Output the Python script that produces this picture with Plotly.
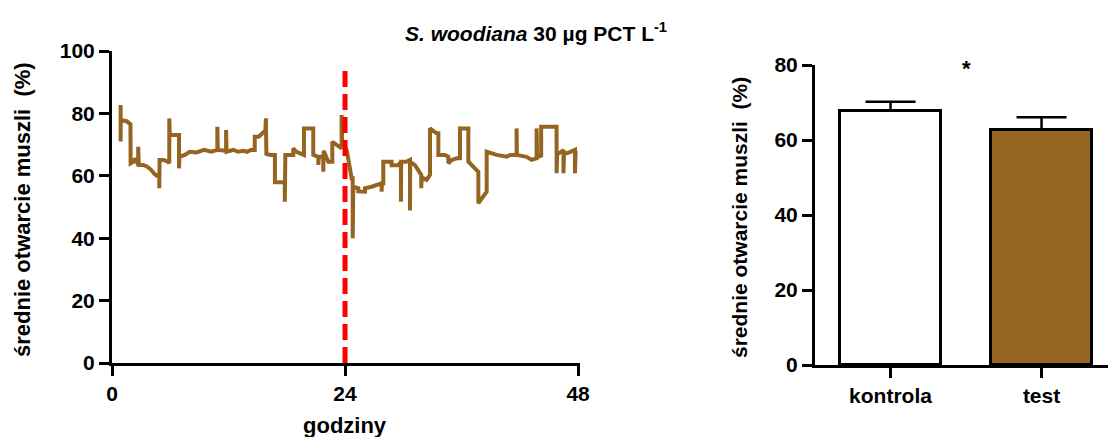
import plotly.graph_objects as go

# ---------------- data ----------------
hours = [0.89, 0.89, 0.9, 1.5, 1.9, 1.92, 2.2, 2.4, 2.7, 2.7, 2.75, 3.2, 3.6, 4.0, 4.4, 4.87, 4.87, 4.9,
         5.3, 5.8, 5.9, 5.9, 5.95, 6.9, 6.9, 6.95, 7.5, 8.0, 8.7, 9.5, 10.2, 10.85, 10.85, 10.9, 11.75,
         11.75, 11.8, 12.5, 13.0, 13.5, 13.9, 14.3, 14.7, 14.7, 15.1, 15.8, 15.85, 15.9, 16.3, 16.78,
         16.78, 17.8, 17.8, 17.85, 18.67, 18.67, 19.0, 19.77, 19.77, 20.73, 20.73, 21.25, 21.25, 21.3,
         21.76, 21.76, 21.8, 22.28, 22.69, 22.69, 23.14, 23.48, 23.65, 23.65, 23.7, 24.07, 24.17, 24.68,
         24.79, 24.79, 24.85, 25.37, 25.37, 26.05, 26.05, 26.74, 27.6, 27.77, 27.77, 27.8, 27.94, 27.94,
         28.63, 28.8, 28.8, 29.5, 29.76, 29.76, 29.78, 30.3, 30.69, 30.69, 30.71, 31.2, 31.72, 31.85,
         31.85, 31.9, 32.4, 32.75, 32.75, 33.43, 33.61, 33.61, 34.29, 34.64, 34.64, 35.0, 35.5, 35.84,
         35.84, 36.7, 36.7, 37.21, 37.73, 37.73, 38.59, 38.59, 39.44, 39.62, 40.65, 41.0, 41.67, 41.67,
         41.7, 42.7, 43.22, 43.73, 43.73, 43.78, 44.2, 44.2, 45.79, 45.79, 45.85, 46.3, 46.5, 46.5,
         46.55, 47.1, 47.68, 47.68, 47.72, 47.75]
opening = [82.7, 71.0, 77.9, 77.5, 76.5, 64.0, 64.5, 65.5, 63.5, 69.3, 63.5, 63.5, 63.0, 62.0, 60.5, 59.5, 56.0, 65.1,
           65.1, 64.5, 64.0, 78.4, 73.1, 73.1, 62.4, 66.1, 66.7, 67.7, 67.5, 68.3, 67.7, 68.3, 75.7, 68.3, 68.0,
           74.7, 67.7, 68.3, 67.7, 68.0, 67.7, 68.3, 68.3, 72.5, 72.5, 74.5, 78.4, 67.0, 66.7, 66.7,
           57.9, 57.9, 51.7, 66.7, 66.7, 68.8, 67.7, 66.7, 75.2, 75.2, 66.7, 66.1, 63.5, 66.1,
           66.1, 61.3, 68.0, 64.5, 64.5, 70.9, 69.9, 68.8, 68.8, 79.5, 70.0, 68.8, 68.3, 59.2,
           59.2, 40.0, 56.5, 56.0, 55.0, 54.9, 56.0, 56.5, 57.6, 57.6, 54.9, 57.6, 57.6, 64.5,
           64.5, 64.5, 63.4, 63.4, 64.5, 51.7, 64.5, 64.5, 65.1, 48.9, 64.5, 63.4, 61.3, 60.3,
           56.0, 59.5, 58.7, 60.3, 75.2, 73.6, 73.6, 66.7, 66.7, 66.1, 64.0, 65.1, 65.6, 65.6,
           75.2, 75.2, 64.5, 62.9, 61.3, 51.2, 54.9, 67.7, 66.7, 66.7, 66.1, 66.7, 66.7, 75.2,
           66.7, 66.1, 65.1, 65.6, 75.2, 66.0, 66.5, 75.7, 75.7, 60.8, 67.0, 67.7, 68.3, 60.8,
           67.0, 67.5, 68.3, 60.8, 68.0, 68.0]

event_hour = [24, 24]
event_level = [0, 95]

groups = ["kontrola", "test"]
group_mean = [67.8, 62.8]
group_sem = [2.4, 3.3]
group_zero = [0, 0]

x_ticks = [0, 24, 48]
y_ticks_left = [0, 20, 40, 60, 80, 100]
y_ticks_right = [0, 20, 40, 60, 80]

# ---------------- styling ----------------
BROWN = "#946420"
FONT = "Liberation Sans, Arial, sans-serif"
W, H = 1108, 437


def bold(size):
    return dict(family=FONT, size=size, color="black", weight="bold")


fig = go.Figure()

fig.add_trace(go.Scatter(x=hours, y=opening, mode="lines",
                         line=dict(color=BROWN, width=4), xaxis="x", yaxis="y",
                         showlegend=False, hoverinfo="skip"))
fig.add_trace(go.Scatter(x=event_hour, y=event_level, mode="lines",
                         line=dict(color="#ff0000", width=5, dash="16px,7px"),
                         xaxis="x", yaxis="y", showlegend=False, hoverinfo="skip"))

fig.add_trace(go.Bar(x=groups, y=group_mean, xaxis="x2", yaxis="y2", width=0.67,
                     marker=dict(color=["white", BROWN], line=dict(color="black", width=3)),
                     error_y=dict(type="data", array=group_sem, symmetric=False,
                                  arrayminus=group_zero, color="black", thickness=2.5, width=25),
                     showlegend=False, hoverinfo="skip"))

axis_common = dict(showgrid=False, zeroline=False, showline=True, linecolor="black", linewidth=3,
                   ticks="outside", ticklen=10, tickwidth=3, tickcolor="black",
                   automargin=False)

fig.update_layout(
    width=W, height=H,
    margin=dict(l=0, r=0, t=0, b=0, pad=0, autoexpand=False),
    paper_bgcolor="white", plot_bgcolor="white",
    template="none",
    bargap=0,
    xaxis=dict(domain=[112 / W, 580 / W], range=[0, 48.2], tickvals=x_ticks,
               anchor="y", tickfont=bold(21), **axis_common),
    yaxis=dict(domain=[1 - 363 / H, 1 - 51 / H], range=[0, 100], tickvals=y_ticks_left,
               anchor="x", tickfont=bold(21), **axis_common),
    xaxis2=dict(domain=[815 / W, 1.0], range=[-0.5, 1.44], anchor="y2",
                categoryorder="array", categoryarray=groups, tickfont=bold(21), **axis_common),
    yaxis2=dict(domain=[1 - 365 / H, 1 - 65 / H], range=[0, 80], tickvals=y_ticks_right,
                anchor="x2", tickfont=bold(21), **axis_common),
)

ytitle = "średnie otwarcie muszli \u00a0(%)"
fig.add_annotation(xref="paper", yref="paper", x=22 / W, y=1 - 210 / H,
                   xanchor="center", yanchor="middle",
                   text=ytitle, textangle=-90, showarrow=False, font=bold(22))
fig.add_annotation(xref="paper", yref="paper", x=740 / W, y=1 - 218 / H,
                   xanchor="center", yanchor="middle",
                   text=ytitle, textangle=-90, showarrow=False, font=bold(21))
fig.add_annotation(xref="paper", yref="paper", x=345 / W, y=1 - 425 / H,
                   xanchor="center", yanchor="middle",
                   text="godziny", showarrow=False, font=bold(22))
fig.add_annotation(xref="paper", yref="paper", x=536 / W, y=1 - 32 / H,
                   xanchor="center", yanchor="middle",
                   text="<i>S. woodiana</i> 30 \u00b5g PCT L<sup>-1</sup>", showarrow=False,
                   font=bold(21))
fig.add_annotation(xref="x2", yref="y2", x=0.5, y=79, xanchor="center", yanchor="middle",
                   text="*", showarrow=False, font=bold(22))

fig.write_html("out.html")
